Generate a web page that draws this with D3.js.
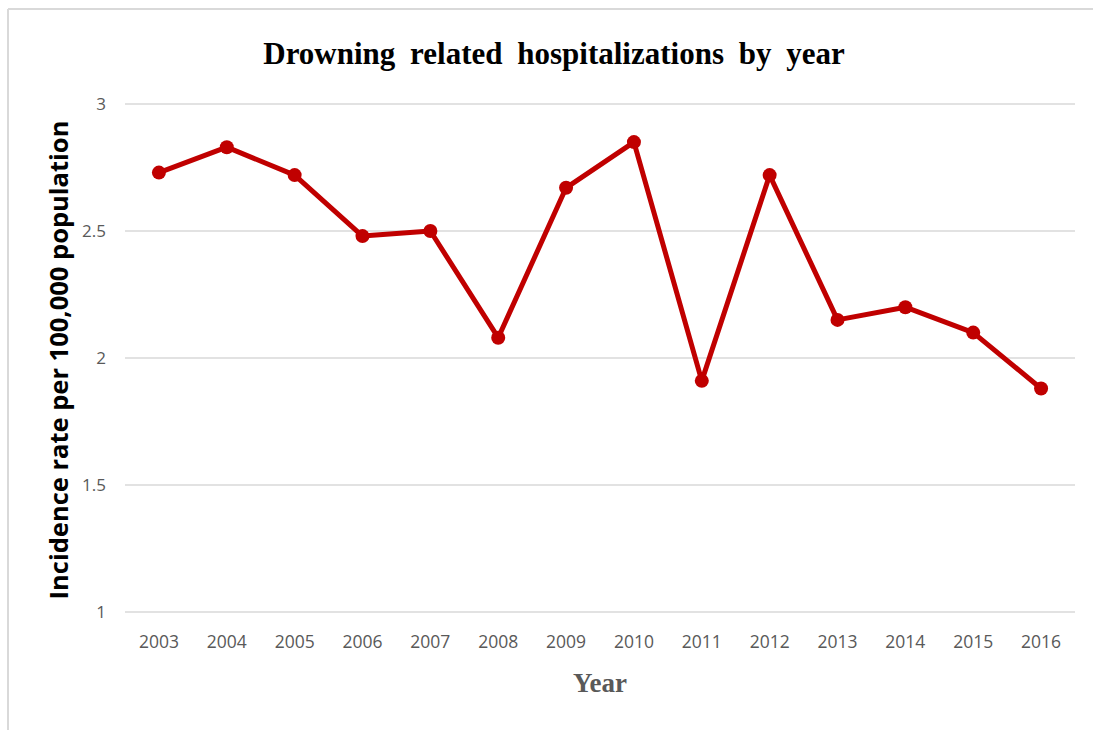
<!DOCTYPE html>
<html>
<head>
<meta charset="utf-8">
<script src="https://cdn.jsdelivr.net/npm/d3@7"></script>
<style>
  body { margin: 0; background: #fff; }
  svg { display: block; }
</style>
</head>
<body>
<svg id="chart" width="1093" height="730"></svg>
<script>
// Data
const years = ["2003", "2004", "2005", "2006", "2007", "2008", "2009", "2010", "2011", "2012", "2013", "2014", "2015", "2016"];
const rates = [2.73, 2.83, 2.72, 2.48, 2.50, 2.08, 2.67, 2.85, 1.91, 2.72, 2.15, 2.20, 2.10, 1.88];
const yTicks = [1, 1.5, 2, 2.5, 3];

const svg = d3.select("#chart");
const margin = { left: 125, right: 18, top: 104, bottom: 118 };
const width = 1093, height = 730;

// outer frame (only top and left show in the picture)
svg.append("line")
    .attr("x1", 8).attr("x2", width).attr("y1", 9).attr("y2", 9)
    .attr("stroke", "#d9d9d9").attr("stroke-width", 2);
svg.append("line")
    .attr("x1", 8).attr("x2", 8).attr("y1", 9).attr("y2", height)
    .attr("stroke", "#d9d9d9").attr("stroke-width", 2);

const x = d3.scaleBand()
    .domain(years)
    .range([margin.left, width - margin.right]);

const y = d3.scaleLinear()
    .domain([1, 3])
    .range([height - margin.bottom, margin.top]);

// gridlines
svg.append("g")
    .selectAll("line")
    .data(yTicks)
    .enter().append("line")
    .attr("x1", margin.left)
    .attr("x2", width - margin.right)
    .attr("y1", d => y(d))
    .attr("y2", d => y(d))
    .attr("stroke", "#d9d9d9")
    .attr("stroke-width", 1.5);

// y tick labels
svg.append("g")
    .selectAll("text")
    .data(yTicks)
    .enter().append("text")
    .attr("x", 106)
    .attr("y", d => y(d))
    .attr("dy", "0.35em")
    .attr("text-anchor", "end")
    .attr("font-family", "Open Sans, sans-serif")
    .attr("font-size", 17)
    .attr("fill", "#595959")
    .text(d => d);

// x tick labels
svg.append("g")
    .selectAll("text")
    .data(years)
    .enter().append("text")
    .attr("x", d => x(d) + x.bandwidth() / 2)
    .attr("y", 648)
    .attr("text-anchor", "middle")
    .attr("font-family", "Open Sans, sans-serif")
    .attr("font-size", 17.5)
    .attr("fill", "#595959")
    .text(d => d);

// line + markers
const line = d3.line()
    .x((d, i) => x(years[i]) + x.bandwidth() / 2)
    .y(d => y(d));

svg.append("path")
    .datum(rates)
    .attr("d", line)
    .attr("fill", "none")
    .attr("stroke", "#c00000")
    .attr("stroke-width", 5)
    .attr("stroke-linejoin", "round");

svg.append("g")
    .selectAll("circle")
    .data(rates)
    .enter().append("circle")
    .attr("cx", (d, i) => x(years[i]) + x.bandwidth() / 2)
    .attr("cy", d => y(d))
    .attr("r", 7)
    .attr("fill", "#c00000");

// title
svg.append("text")
    .attr("x", 554)
    .attr("y", 64)
    .attr("text-anchor", "middle")
    .attr("font-family", "Liberation Serif, Times New Roman, serif")
    .attr("font-weight", "bold")
    .attr("font-size", 31)
    .attr("word-spacing", 7)
    .attr("fill", "#000")
    .text("Drowning related hospitalizations by year");

// axis titles
svg.append("text")
    .attr("x", 600)
    .attr("y", 692)
    .attr("text-anchor", "middle")
    .attr("font-family", "Liberation Serif, Times New Roman, serif")
    .attr("font-weight", "bold")
    .attr("font-size", 27)
    .attr("fill", "#595959")
    .text("Year");

svg.append("text")
    .attr("transform", "translate(68,360) rotate(-90)")
    .attr("text-anchor", "middle")
    .attr("font-family", "Open Sans, sans-serif")
    .attr("font-weight", "bold")
    .attr("font-size", 25.5)
    .attr("fill", "#000")
    .text("Incidence rate per 100,000 population");
</script>
</body>
</html>
